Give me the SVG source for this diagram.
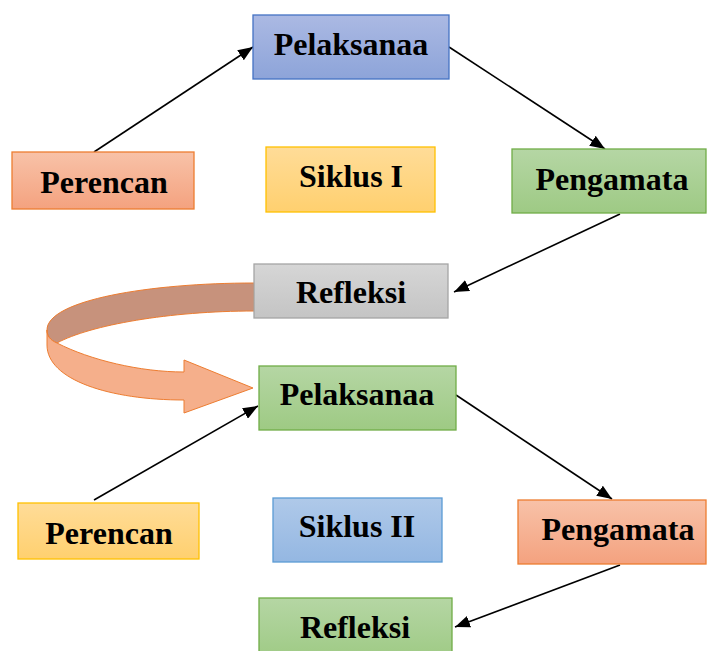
<svg xmlns="http://www.w3.org/2000/svg" width="708" height="651" viewBox="0 0 708 651">
<style>
.t{font-family:"Liberation Serif","Times New Roman",serif;font-weight:bold;font-size:32px;fill:#000;text-anchor:middle}
.c{stroke:#000;stroke-width:1.6;fill:none;marker-end:url(#ah)}
.box{stroke-width:1.3}
</style>
<defs>
<marker id="ah" viewBox="0 0 10 10" refX="10" refY="5" markerWidth="15" markerHeight="12" markerUnits="userSpaceOnUse" orient="auto" preserveAspectRatio="none">
<path d="M0,0 L10,5 L0,10 Z" fill="#000"/>
</marker>
<linearGradient id="gBlue" x1="0" y1="0" x2="0" y2="1"><stop offset="0" stop-color="#ABB9E3"/><stop offset="1" stop-color="#8DA4D9"/></linearGradient>
<linearGradient id="gOrange" x1="0" y1="0" x2="0" y2="1"><stop offset="0" stop-color="#F8C2A8"/><stop offset="1" stop-color="#F4A27F"/></linearGradient>
<linearGradient id="gGold" x1="0" y1="0" x2="0" y2="1"><stop offset="0" stop-color="#FFDC98"/><stop offset="1" stop-color="#FFD06F"/></linearGradient>
<linearGradient id="gGreen" x1="0" y1="0" x2="0" y2="1"><stop offset="0" stop-color="#B5D6A4"/><stop offset="1" stop-color="#9ECA84"/></linearGradient>
<linearGradient id="gGray" x1="0" y1="0" x2="0" y2="1"><stop offset="0" stop-color="#D6D6D6"/><stop offset="1" stop-color="#C4C4C4"/></linearGradient>
<linearGradient id="gSky" x1="0" y1="0" x2="0" y2="1"><stop offset="0" stop-color="#AFC9E9"/><stop offset="1" stop-color="#94B7E2"/></linearGradient>
</defs>

<g id="curved-arrow">
<path d="M254,283 C150,283 47,300 47,330 C47,336 50,340 57,343 C90,325 170,311 254,311 Z" fill="#C7927C" stroke="#ED7D31" stroke-width="1"/>
<path d="M47,330 C47,336 50,340 57,343 C90,360 140,372 184,372 L184,360 L253,388 L184,413 L184,400 C110,400 47,380 47,345 Z" fill="#F5AF8B" stroke="#ED7D31" stroke-width="1"/>
</g>

<g id="connectors">
<line class="c" x1="94" y1="152" x2="253" y2="47"/>
<line class="c" x1="449" y1="47" x2="605" y2="149"/>
<line class="c" x1="620" y1="214" x2="454" y2="292"/>
<line class="c" x1="94" y1="500" x2="258" y2="406"/>
<line class="c" x1="456" y1="395" x2="612" y2="499"/>
<line class="c" x1="620" y1="565" x2="455" y2="627"/>
</g>

<g id="pelaksanaa1">
<rect class="box" x="253" y="15" width="196" height="64" fill="url(#gBlue)" stroke="#4472C4"/>
<text class="t" x="351" y="55">Pelaksanaa</text>
</g>
<g id="perencan1">
<rect class="box" x="12" y="152" width="182" height="57" fill="url(#gOrange)" stroke="#ED7D31"/>
<text class="t" x="104" y="193">Perencan</text>
</g>
<g id="siklus1">
<rect class="box" x="266" y="147" width="169" height="65" fill="url(#gGold)" stroke="#FFC000"/>
<text class="t" x="351" y="187">Siklus I</text>
</g>
<g id="pengamata1">
<rect class="box" x="512" y="149" width="194" height="64" fill="url(#gGreen)" stroke="#70AD47"/>
<text class="t" x="612" y="190">Pengamata</text>
</g>
<g id="refleksi1">
<rect class="box" x="254" y="264" width="194" height="54" fill="url(#gGray)" stroke="#A5A5A5"/>
<text class="t" x="351" y="303">Refleksi</text>
</g>
<g id="pelaksanaa2">
<rect class="box" x="259" y="366" width="197" height="64" fill="url(#gGreen)" stroke="#70AD47"/>
<text class="t" x="357" y="405">Pelaksanaa</text>
</g>
<g id="perencan2">
<rect class="box" x="18" y="503" width="181" height="56" fill="url(#gGold)" stroke="#FFC000"/>
<text class="t" x="109" y="544">Perencan</text>
</g>
<g id="siklus2">
<rect class="box" x="273" y="498" width="169" height="64" fill="url(#gSky)" stroke="#5B9BD5"/>
<text class="t" x="357" y="537">Siklus II</text>
</g>
<g id="pengamata2">
<rect class="box" x="518" y="500" width="188" height="64" fill="url(#gOrange)" stroke="#ED7D31"/>
<text class="t" x="618" y="540">Pengamata</text>
</g>
<g id="refleksi2">
<rect class="box" x="259" y="598" width="193" height="62" fill="url(#gGreen)" stroke="#70AD47"/>
<text class="t" x="355" y="638">Refleksi</text>
</g>
</svg>
